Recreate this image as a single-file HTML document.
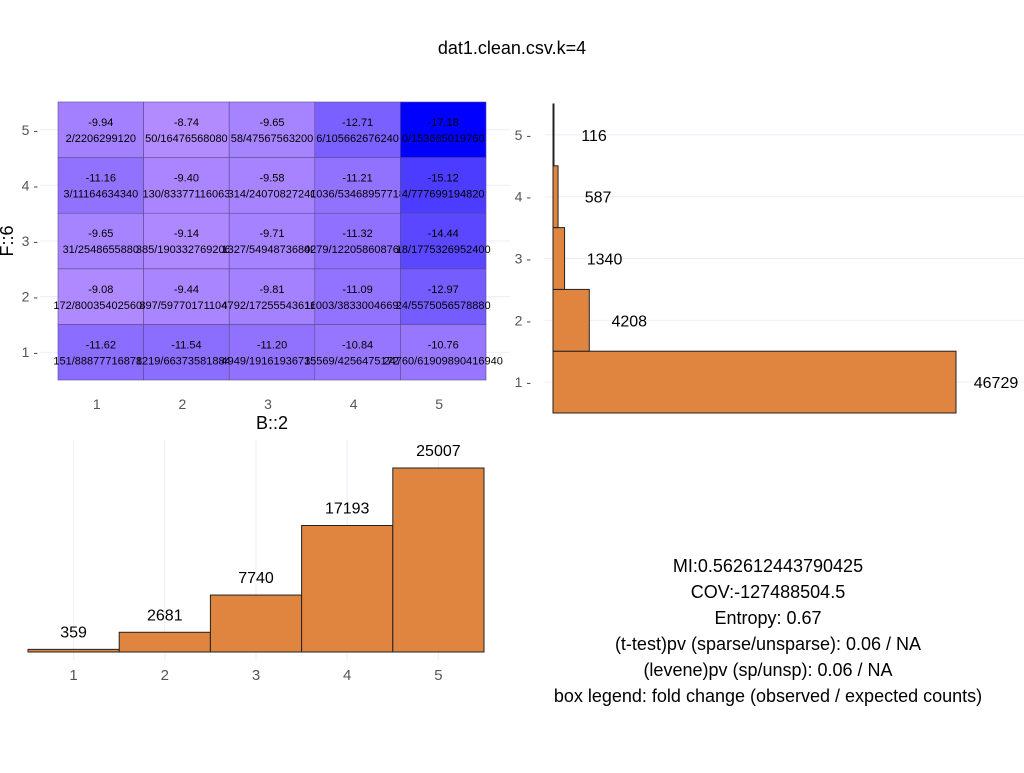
<!DOCTYPE html>
<html><head><meta charset="utf-8"><style>
body{margin:0;background:#fff;font-family:"Liberation Sans",sans-serif}
svg text{font-family:"Liberation Sans",sans-serif}
</style></head><body>
<svg id="c" width="1024" height="768">
<text x="512" y="54" text-anchor="middle" font-size="18">dat1.clean.csv.k=4</text>
<g id="hm"></g>
<g id="rh"></g>
<g id="bh"></g>
<g font-size="18" text-anchor="middle">
<text x="768" y="572">MI:0.562612443790425</text>
<text x="768" y="598">COV:-127488504.5</text>
<text x="768" y="624">Entropy: 0.67</text>
<text x="768" y="650">(t-test)pv (sparse/unsparse): 0.06 / NA</text>
<text x="768" y="676">(levene)pv (sp/unsp): 0.06 / NA</text>
<text x="768" y="702">box legend: fold change (observed / expected counts)</text>
</g>
</svg>
<script>
const hmX=["1","2","3","4","5"];
const hmY=["1","2","3","4","5"];
// rows: y=1..5, cols x=1..5
const hmVals=[[-11.62,-11.54,-11.20,-10.84,-10.76],[-9.08,-9.44,-9.81,-11.09,-12.97],[-9.65,-9.14,-9.71,-11.32,-14.44],[-11.16,-9.40,-9.58,-11.21,-15.12],[-9.94,-8.74,-9.65,-12.71,-17.18]];
const hmLabels=[["151/888777168782","1219/663735818849","4949/191619367358","15569/425647517270","24760/61909890416940"],["172/800354025608","897/597701711047","4792/172555436160","11003/383300466924","24/5575056578880"],["31/2548655880","385/1903327692062","1327/549487368002","4279/1220586087608","18/1775326952400"],["3/11164634340","130/83377116063","314/24070827240","1036/53468957718","4/777699194820"],["2/2206299120","50/16476568080","58/47567563200","6/105662676240","0/153685019760"]];
const rowCounts=[46729,4208,1340,587,116];
const colCounts=[359,2681,7740,17193,25007];
const NS="http://www.w3.org/2000/svg";
function mk(p,t,a,txt){const e=document.createElementNS(NS,t);for(const k in a)e.setAttribute(k,a[k]);if(txt!=null)e.textContent=txt;p.appendChild(e);return e;}
const hm=document.getElementById('hm');
const hx0=58,hw=85.6,hy1=380,hh=55.6;
const hxs=i=>hx0+i*hw, hys=j=>hy1-(j+1)*hh;
for(let k=0;k<5;k++){
  let g=mk(hm,'line',{x1:40,x2:510,y1:hys(k)+hh/2,y2:hys(k)+hh/2,stroke:'#ececff'});
  
  let t=mk(hm,'text',{x:38,y:hys(k)+hh/2+5,'font-size':14,fill:'#555','text-anchor':'end'},hmY[k]+' -');
  
  let t2=mk(hm,'text',{x:hxs(k)+hw/2-4,y:409,'font-size':14,fill:'#555','text-anchor':'middle'},hmX[k]);
  
}
const vmin=-17.18,vmax=-8.74;
function col(v){let t=Math.max(0,Math.min(1,(v-vmin)/(vmax-vmin)));t=Math.pow(t,0.6);return `rgb(${Math.round(178*t)},${Math.round(140*t)},255)`;}
for(let j=0;j<5;j++)for(let i=0;i<5;i++){
  const v=hmVals[j][i];
  let r=mk(hm,'rect',{x:hxs(i),y:hys(j),width:hw,height:hh,fill:col(v),stroke:'#5a4a8a','stroke-width':0.6});
  
  let a=mk(hm,'text',{x:hxs(i)+hw/2,y:hys(j)+24,'font-size':11,'text-anchor':'middle'},v.toFixed(2));
  
  let b=mk(hm,'text',{x:hxs(i)+hw/2,y:hys(j)+40,'font-size':11,'text-anchor':'middle'},hmLabels[j][i]);
  
}
let yt=mk(hm,'text',{x:13,y:241,'font-size':18,'text-anchor':'middle',transform:'rotate(-90 13 241)'},'F::6');

let xt=mk(hm,'text',{x:272,y:429,'font-size':18,'text-anchor':'middle'},'B::2');

const rh=document.getElementById('rh');
const rx0=553,rscale=403/46729,rbTop=104,rbh=61.8;
const ry=j=>rbTop+(4-j)*rbh;
for(let j=0;j<5;j++){
  let g=mk(rh,'line',{x1:545,x2:1024,y1:ry(j)+rbh/2,y2:ry(j)+rbh/2,stroke:'#ececff'});
  
  let t=mk(rh,'text',{x:531,y:ry(j)+rbh/2+5,'font-size':14,fill:'#555','text-anchor':'end'},hmY[j]+' -');
  
  const w=rowCounts[j]*rscale;
  let r=mk(rh,'rect',{x:rx0,y:ry(j),width:Math.max(w,0.5),height:rbh,fill:'#e08540',stroke:'#222','stroke-width':1});
  
  let l=mk(rh,'text',{x:rx0+w+40,y:ry(j)+rbh/2+6,'font-size':16,'text-anchor':'middle'},String(rowCounts[j]));
  
}
const bh=document.getElementById('bh');
const bx0=28,bw=91.2,base=652,bscale=184/25007;
for(let i=0;i<5;i++){
  let g=mk(bh,'line',{x1:bx0+i*bw+bw/2,x2:bx0+i*bw+bw/2,y1:440,y2:660,stroke:'#ececff'});
  
}
for(let i=0;i<5;i++){
  const h=colCounts[i]*bscale,x=bx0+i*bw;
  let r=mk(bh,'rect',{x:x,y:base-h,width:bw,height:h,fill:'#e08540',stroke:'#222','stroke-width':1});
  
  let l=mk(bh,'text',{x:x+bw/2,y:base-h-12,'font-size':16,'text-anchor':'middle'},String(colCounts[i]));
  
  let t=mk(bh,'text',{x:x+bw/2,y:680,'font-size':15,fill:'#555','text-anchor':'middle'},hmX[i]);
  
}
</script>
</body></html>
